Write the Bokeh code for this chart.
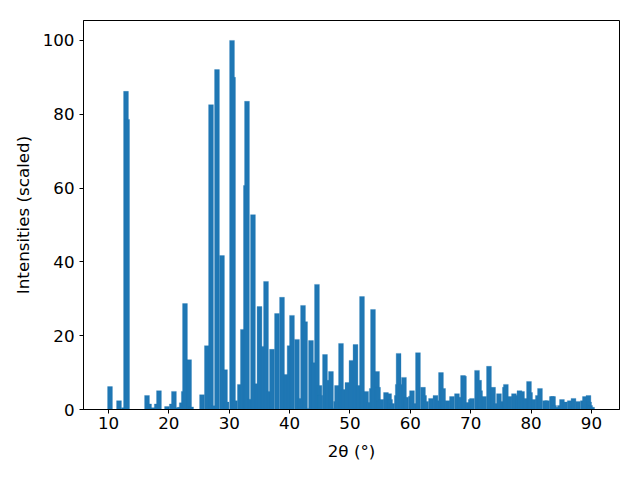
from bokeh.plotting import figure
from bokeh.models import Range1d, FixedTicker
from bokeh.embed import file_html
from bokeh.resources import INLINE

# 2-theta positions (degrees) and scaled intensities
two_theta = [
    10.25, 11.74, 12.55, 12.90, 13.08, 16.38, 16.72, 17.37, 18.00, 18.36,
    19.69, 20.49, 20.84, 21.48, 21.81, 22.14, 22.47, 22.67, 23.35, 23.68,
    25.49, 26.30, 26.98, 27.47, 27.97, 28.80, 29.30, 29.55, 30.46, 30.63,
    30.96, 31.76, 32.26, 32.76, 32.94, 33.44, 33.93, 34.60, 35.01, 35.60,
    36.09, 36.58, 37.08, 37.91, 38.74, 39.40, 40.00, 40.39, 41.22, 41.72,
    42.22, 42.56, 43.05, 43.54, 44.00, 44.53, 44.94, 45.10, 45.86, 46.31,
    46.85, 47.35, 47.69, 47.85, 48.51, 48.86, 49.58, 50.25, 50.91, 51.41,
    51.99, 52.67, 53.06, 53.61, 53.81, 54.48, 54.65, 54.82, 55.20, 55.96,
    56.48, 56.64, 56.97, 57.75, 57.92, 58.05, 58.45, 58.94, 59.29, 60.09,
    60.27, 60.77, 61.26, 62.09, 62.27, 62.60, 63.42, 64.16, 64.58, 65.07,
    65.42, 66.15, 66.89, 67.72, 68.22, 68.72, 68.88, 69.46, 70.00, 70.21,
    71.04, 71.39, 71.55, 72.22, 73.02, 73.70, 74.18, 74.68, 75.18, 75.66,
    75.82, 76.42, 77.16, 77.90, 78.07, 78.50, 79.07, 79.65, 79.83, 80.39,
    81.12, 81.47, 82.30, 82.66, 83.44, 83.64, 83.80, 84.28, 84.77, 85.11,
    85.63, 86.40, 87.02, 87.76, 88.58, 88.91, 89.50, 89.60, 89.77, 90.10,
]
intensity = [
    6.2, 2.4, 0.5, 86.2, 78.6, 3.8, 1.5, 0.5, 1.5, 5.1,
    0.8, 1.5, 4.9, 0.5, 0.6, 1.8, 4.9, 28.7, 13.5, 0.7,
    4.0, 17.3, 82.6, 1.0, 92.1, 41.7, 10.8, 2.0, 100.0, 90.0,
    2.4, 6.8, 21.7, 60.7, 83.5, 2.8, 52.8, 7.0, 27.9, 17.1,
    34.7, 4.9, 16.3, 26.0, 30.4, 9.5, 17.3, 25.5, 19.0, 3.0,
    28.2, 23.8, 0.3, 18.7, 12.7, 33.9, 6.5, 3.8, 14.9, 7.9,
    10.3, 0.3, 2.2, 6.5, 17.9, 5.4, 7.3, 13.3, 17.6, 6.5,
    30.6, 4.9, 1.9, 5.7, 27.1, 10.3, 6.0, 2.3, 2.7, 4.6,
    4.3, 2.7, 1.6, 3.8, 6.8, 15.2, 6.8, 8.7, 3.3, 3.6,
    5.1, 1.6, 15.4, 6.0, 3.8, 2.2, 3.0, 3.8, 2.4, 10.0,
    5.7, 2.4, 3.5, 4.3, 3.3, 9.2, 9.0, 1.9, 2.7, 3.0,
    10.6, 7.9, 5.1, 3.5, 11.7, 6.0, 1.6, 4.3, 2.2, 6.0,
    6.8, 3.5, 4.3, 3.8, 5.1, 4.9, 3.0, 7.6, 4.6, 2.7,
    3.8, 5.7, 2.4, 2.4, 3.5, 3.5, 1.1, 0.6, 1.1, 2.7,
    2.0, 2.4, 3.0, 2.2, 2.4, 3.5, 3.8, 2.0, 1.1, 0.6,
]
x_ticks = [10, 20, 30, 40, 50, 60, 70, 80, 90]
y_ticks = [0, 20, 40, 60, 80, 100]

FONT = "DejaVu Sans"
FS = "16.7px"

p = figure(frame_width=536, frame_height=389, output_backend="svg",
           toolbar_location=None,
           x_range=Range1d(5.86, 94.64), y_range=Range1d(0, 105.4),
           min_border_left=83, min_border_right=5,
           min_border_top=20, min_border_bottom=55)

p.vbar(x=two_theta, top=intensity, bottom=0, width=0.8,
       fill_color="#1f77b4", line_color="#1f77b4", line_width=0.3)

p.xgrid.visible = False
p.ygrid.visible = False
p.outline_line_color = "black"
p.outline_line_width = 1
p.outline_line_alpha = 1

for ax in (p.xaxis[0], p.yaxis[0]):
    ax.major_label_text_font = FONT
    ax.major_label_text_font_size = FS
    ax.major_label_text_color = "black"
    ax.axis_label_text_font = FONT
    ax.axis_label_text_font_size = FS
    ax.axis_label_text_font_style = "normal"
    ax.axis_label_text_color = "black"
    ax.minor_tick_line_color = None
    ax.major_tick_in = 0
    ax.major_tick_out = 4
    ax.major_tick_line_color = "black"
    ax.axis_line_color = "black"

p.xaxis[0].major_label_standoff = 3
p.yaxis[0].major_label_standoff = 5
p.xaxis[0].ticker = FixedTicker(ticks=x_ticks)
p.yaxis[0].ticker = FixedTicker(ticks=y_ticks)
p.xaxis[0].axis_label = "2θ (°)"
p.yaxis[0].axis_label = "Intensities (scaled)"
p.xaxis[0].axis_label_standoff = 9
p.yaxis[0].axis_label_standoff = 7

open("out.html", "w").write(file_html(p, INLINE))
